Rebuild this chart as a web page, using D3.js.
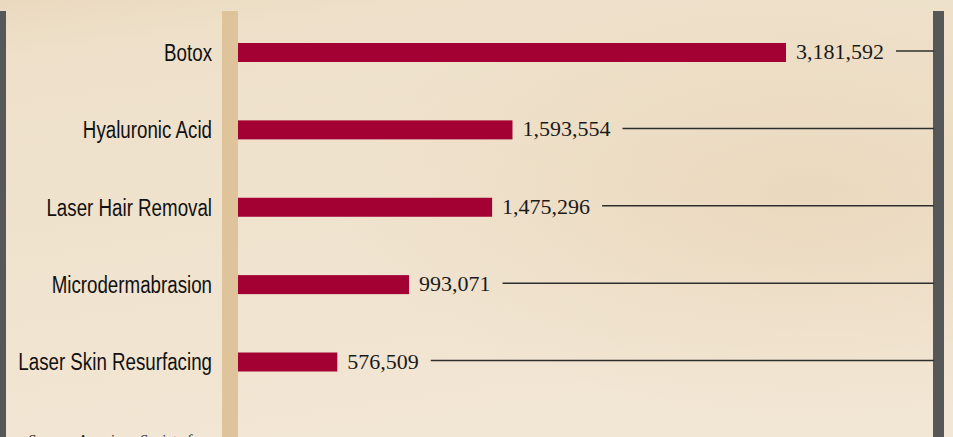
<!DOCTYPE html>
<html>
<head>
<meta charset="utf-8">
<script src="https://cdn.jsdelivr.net/npm/d3@7"></script>
<style>
  html, body { margin: 0; padding: 0; background: #efe3cf; overflow: hidden; }
</style>
</head>
<body>
<div id="chart"></div>
<script>
// data
const procedures = ["Botox", "Hyaluronic Acid", "Laser Hair Removal", "Microdermabrasion", "Laser Skin Resurfacing"];
const counts = [3181592, 1593554, 1475296, 993071, 576509];
const sourceLines = ["Source: American Society for", "Aesthetic Plastic Surgery"];

const W = 953, H = 437;
const barLeft = 238, barMaxRight = 786;

const svg = d3.select("#chart")
    .append("svg")
    .attr("width", W)
    .attr("height", H);

// parchment background
const defs = svg.append("defs");
const bg = defs.append("linearGradient")
    .attr("id", "bg")
    .attr("x1", 0).attr("y1", 0).attr("x2", 0.3).attr("y2", 1);
bg.append("stop").attr("offset", "0").attr("stop-color", "#ead9bf");
bg.append("stop").attr("offset", "0.12").attr("stop-color", "#eee0c9");
bg.append("stop").attr("offset", "1").attr("stop-color", "#f2e6d4");
const glow = defs.append("radialGradient")
    .attr("id", "glow")
    .attr("cx", 0.85).attr("cy", 0.45).attr("r", 0.5);
glow.append("stop").attr("offset", "0").attr("stop-color", "#e6d0b0").attr("stop-opacity", 0.55);
glow.append("stop").attr("offset", "1").attr("stop-color", "#e6d0b0").attr("stop-opacity", 0);

svg.append("rect").attr("width", W).attr("height", H).attr("fill", "url(#bg)");
svg.append("rect").attr("width", W).attr("height", H).attr("fill", "url(#glow)");

// frame strips
svg.append("rect").attr("x", 0).attr("y", 11).attr("width", 6).attr("height", H).attr("fill", "#555759");
svg.append("rect").attr("x", 222).attr("y", 11).attr("width", 16).attr("height", H).attr("fill", "#dfc39a");
svg.append("rect").attr("x", 933).attr("y", 11).attr("width", 11).attr("height", H).attr("fill", "#555759");

// scales
const x = d3.scaleLinear()
    .domain([0, d3.max(counts)])
    .range([barLeft, barMaxRight]);

const y = d3.scalePoint()
    .domain(procedures)
    .range([52.5, 362]);

const barH = 19;
const data = procedures.map((p, i) => ({ name: p, value: counts[i] }));

// category labels (condensed look by squeezing a regular sans)
svg.selectAll("text.cat")
    .data(data)
    .join("text")
    .attr("class", "cat")
    .attr("transform", d => `translate(212, ${y(d.name)}) scale(0.815, 1)`)
    .attr("dy", "0.36em")
    .attr("text-anchor", "end")
    .style("font-family", "'Liberation Sans', Arial, sans-serif")
    .style("font-size", "23px")
    .attr("fill", "#111")
    .text(d => d.name);

// bars
svg.selectAll("rect.bar")
    .data(data)
    .join("rect")
    .attr("class", "bar")
    .attr("x", x(0))
    .attr("y", d => y(d.name) - barH / 2)
    .attr("width", d => x(d.value) - x(0))
    .attr("height", barH)
    .attr("fill", "#a30034");

// value labels
const fmt = d3.format(",");
const vals = svg.selectAll("text.val")
    .data(data)
    .join("text")
    .attr("class", "val")
    .attr("x", d => x(d.value) + 10)
    .attr("y", d => y(d.name))
    .attr("dy", "0.3em")
    .style("font-family", "'Liberation Serif', serif")
    .style("font-size", "22px")
    .attr("fill", "#1a1a1a")
    .text(d => fmt(d.value));

// leader lines out to the right strip
vals.each(function (d) {
    const end = x(d.value) + 10 + this.getComputedTextLength();
    svg.append("line")
        .attr("x1", end + 12)
        .attr("x2", 934)
        .attr("y1", y(d.name) - 1.5)
        .attr("y2", y(d.name) - 1.5)
        .attr("stroke", "#2e2e2e")
        .attr("stroke-width", 1.5);
});

// source note, mostly cut off by the bottom edge as in the original
svg.append("text")
    .attr("x", 28)
    .attr("y", 445)
    .style("font-family", "'Liberation Serif', serif")
    .style("font-style", "italic")
    .style("font-size", "15px")
    .attr("fill", "#222")
    .selectAll("tspan")
    .data(sourceLines)
    .join("tspan")
    .attr("x", 28)
    .attr("dy", (d, i) => i === 0 ? 0 : "1.2em")
    .text(d => d);
</script>
</body>
</html>
